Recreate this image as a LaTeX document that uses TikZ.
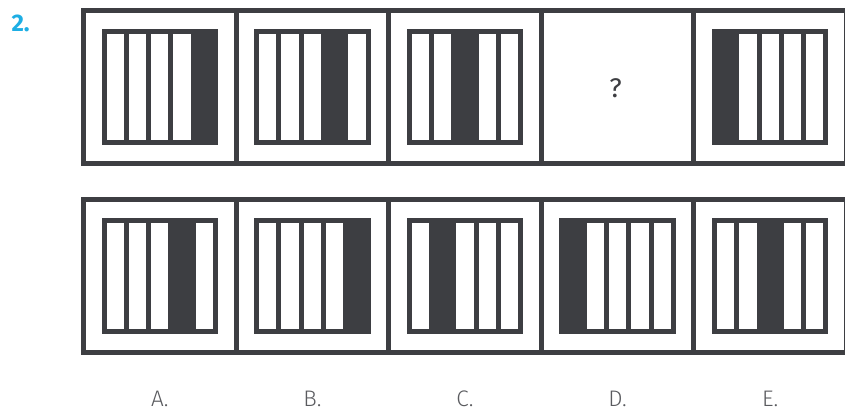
\documentclass[tikz,border=0pt]{standalone}
\usepackage{fontspec}
\setsansfont{Fira Sans}
\newfontfamily\thinfont{Fira Sans Light}
\usetikzlibrary{calc,positioning}
\definecolor{ink}{HTML}{3D3E42}
\definecolor{numblue}{HTML}{1DAEE4}
\definecolor{lbl}{HTML}{5A5B5F}
\tikzset{cell/.style={draw=ink, line width=5pt, minimum width=152.6pt, minimum height=152.5pt,
    inner sep=0pt, outer sep=0pt},
  panel/.style={draw=ink, line width=5pt, minimum size=111.4pt, inner sep=0pt, outer sep=0pt},
  bar/.style={draw=ink, line width=5pt},
  lab/.style={font=\thinfont\fontsize{22.5}{22.5}\selectfont, text=lbl, anchor=base, inner sep=0pt}}

\begin{document}
\begin{tikzpicture}[x=1pt, y=-1pt, node distance=0pt]
  \useasboundingbox (0,0) rectangle (845,412);
  \node[font=\sffamily\bfseries\fontsize{24}{24}\selectfont, text=numblue, anchor=base west] (num) at (8,32) {2.};
  % question row
  \node[cell] (t1) at (159.8,87.25) {};
  \node[cell, right=of t1] (t2) {};
  \node[cell, right=of t2] (t3) {};
  \node[cell, right=of t3] (t4) {};
  \node[cell, right=of t4] (t5) {};
  % answer row
  \node[cell, below=36pt of t1] (b1) {};
  \node[cell, right=of b1] (b2) {};
  \node[cell, right=of b2] (b3) {};
  \node[cell, right=of b3] (b4) {};
  \node[cell, right=of b4] (b5) {};
  \node[font=\sffamily\fontsize{27}{27}\selectfont, text=ink] (q) at ($(t4)+(-2,1)$) {?};
  % striped panels, \k = dark stripe
  \foreach \c/\k in {t1/5,t2/4,t3/3,t5/1,b1/4,b2/5,b3/2,b4/1,b5/3}{
    \node[panel] (\c-p) at (\c) {};
    \fill[ink] ($(\c-p.south west)+({(\k-1)*22.28},0)$) rectangle ($(\c-p.north west)+({\k*22.28},0)$);
    \foreach \i in {1,...,4}
      \draw[bar] ($(\c-p.south west)+({\i*22.28},0)$) -- ($(\c-p.north west)+({\i*22.28},0)$);
  }
  \foreach \c/\l in {b1/A,b2/B,b3/C,b4/D,b5/E}
    \node[lab] (\c-lab) at ($(\c.south)+(0,54.8)$) {\l.};
\end{tikzpicture}
\end{document}
